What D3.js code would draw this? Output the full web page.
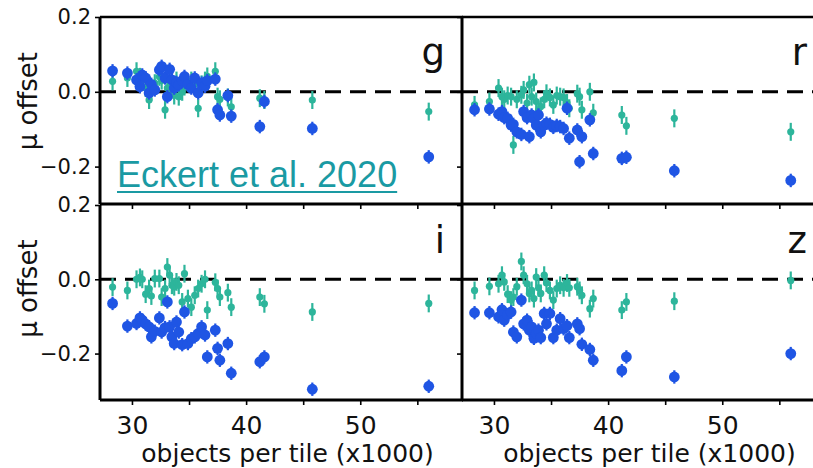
<!DOCTYPE html>
<html>
<head>
<meta charset="utf-8">
<script src="https://cdnjs.cloudflare.com/ajax/libs/d3/7.8.5/d3.min.js"></script>
<style>
  body { margin: 0; background: #fff; }
  svg { display: block; font-family: 'DejaVu Sans', sans-serif; }
</style>
</head>
<body>
<svg id="chart" width="813" height="468"></svg>
<script>
// objects per tile (x1000), one entry per tile, shared by every band
const tiles = [28.3, 29.6, 30.4, 30.7, 30.9, 31.2, 31.5, 31.7, 32.0, 32.4,
               32.6, 32.9, 33.1, 33.3, 33.5, 33.7, 33.9, 34.1, 34.4, 34.6,
               34.9, 35.2, 35.5, 35.8, 36.1, 36.4, 36.6, 37.3, 37.5, 37.7,
               38.4, 38.7, 41.2, 41.6, 45.8, 56.0];

// mu offset per tile, blue and teal samples for each band
const gBlue = [0.056, 0.050, 0.032, 0.014, 0.045, 0.037, -0.003, 0.020, 0.005, 0.059,
               0.068, 0.037, -0.013, 0.060, 0.032, 0.010, 0.025, 0.019, 0.030, 0.041,
               0.020, 0.010, 0.037, -0.003, 0.023, 0.015, 0.030, 0.034, -0.048, -0.062,
               -0.010, -0.065, -0.093, -0.026, -0.098, -0.174];
const gTeal = [0.028, 0.037, 0.055, 0.040, 0.030, 0.010, -0.022, 0.000, 0.023, 0.040,
               0.030, -0.048, 0.010, 0.005, 0.020, -0.010, 0.030, -0.013, 0.000, 0.014,
               0.025, 0.030, 0.020, -0.044, 0.020, 0.030, 0.041, 0.055, -0.013, -0.020,
               -0.015, -0.040, -0.017, -0.022, -0.022, -0.053];

const rBlue = [-0.048, -0.046, -0.060, -0.053, -0.069, -0.071, -0.089, -0.087, -0.107, -0.114,
               -0.053, -0.069, -0.120, -0.062, -0.071, -0.089, -0.062, -0.107, -0.089, -0.084,
               -0.087, -0.095, -0.090, -0.093, -0.098, -0.044, -0.124, -0.102, -0.187, -0.120,
               -0.075, -0.165, -0.178, -0.175, -0.211, -0.237];
const rTeal = [-0.035, -0.026, 0.010, -0.013, -0.020, -0.010, -0.013, -0.142, -0.020, -0.008,
               0.005, -0.030, 0.019, -0.013, 0.025, -0.026, -0.050, -0.039, -0.020, -0.004,
               -0.015, -0.035, -0.010, -0.013, -0.015, -0.030, -0.044, -0.005, -0.013, -0.048,
               0.000, -0.056, -0.062, -0.091, -0.071, -0.107];

const iBlue = [-0.065, -0.126, -0.119, -0.104, -0.110, -0.120, -0.128, -0.155, -0.140, -0.104,
               -0.142, -0.130, -0.061, -0.128, -0.155, -0.173, -0.115, -0.142, -0.176, -0.088,
               -0.173, -0.160, -0.155, -0.146, -0.128, -0.150, -0.209, -0.137, -0.186, -0.218,
               -0.173, -0.253, -0.222, -0.209, -0.296, -0.288];
const iTeal = [-0.021, -0.030, 0.000, 0.005, 0.000, -0.040, -0.025, -0.045, 0.002, 0.002,
               -0.048, -0.025, 0.033, 0.011, -0.016, -0.020, -0.007, -0.016, -0.061, 0.015,
               -0.052, -0.075, -0.043, -0.025, -0.012, 0.000, -0.083, -0.008, -0.025, -0.048,
               -0.036, -0.075, -0.048, -0.066, -0.088, -0.065];

const zBlue = [-0.090, -0.090, -0.101, -0.082, -0.110, -0.095, -0.088, -0.142, -0.155, -0.056,
               -0.120, -0.110, -0.137, -0.128, -0.159, -0.146, -0.137, -0.157, -0.092, -0.120,
               -0.092, -0.157, -0.137, -0.106, -0.133, -0.125, -0.157, -0.120, -0.133, -0.175,
               -0.189, -0.218, -0.246, -0.209, -0.263, -0.200];
const zTeal = [-0.030, -0.019, -0.012, 0.011, -0.007, -0.040, -0.056, -0.048, -0.020, 0.048,
               0.011, -0.012, -0.038, -0.030, -0.052, 0.006, -0.023, -0.038, 0.011, -0.010,
               -0.030, -0.056, -0.025, -0.016, -0.023, -0.010, -0.023, -0.020, -0.030, -0.043,
               -0.079, -0.052, -0.083, -0.061, -0.059, -0.003];

const bands = ['g', 'r', 'i', 'z'];
const xTicks = [30, 35, 40, 45, 50, 55];
const xTickLabels = [30, 40, 50];
const yTicks = [-0.2, 0.0, 0.2];

const blueColor = '#1f55e4';
const tealColor = '#2db59b';

const panels = [
  {band: bands[0], blue: gBlue, teal: gTeal, col: 0, row: 0},
  {band: bands[1], blue: rBlue, teal: rTeal, col: 1, row: 0},
  {band: bands[2], blue: iBlue, teal: iTeal, col: 0, row: 1},
  {band: bands[3], blue: zBlue, teal: zTeal, col: 1, row: 1}
];

const colRange = [[100, 463], [462, 825]];
const rows = [
  {domain: [-0.3, 0.2], range: [204, 17]},
  {domain: [-0.325, 0.2], range: [400, 205]}
];

const svg = d3.select('#chart');

panels.forEach(p => {
  let row = rows[p.row];
  let x = d3.scaleLinear().domain([27.2, 59.0]).range(colRange[p.col]);
  let y = d3.scaleLinear().domain(row.domain).range(row.range);
  let [x0, x1] = x.range();
  let [yb, yt] = y.range();

  let g = svg.append('g').attr('class', 'panel panel-' + p.band);

  // zero line
  g.append('line')
   .attr('x1', x0).attr('x2', x1)
   .attr('y1', y(0)).attr('y2', y(0))
   .attr('stroke', '#000')
   .attr('stroke-width', 3)
   .attr('stroke-dasharray', '16 9');

  let teal = tiles.map((t, k) => ({x: t, y: p.teal[k]}));
  let blue = tiles.map((t, k) => ({x: t, y: p.blue[k]}));

  // teal points
  g.append('g').selectAll('line')
   .data(teal).join('line')
   .attr('x1', d => x(d.x)).attr('x2', d => x(d.x))
   .attr('y1', d => y(d.y - 0.024)).attr('y2', d => y(d.y + 0.024))
   .attr('stroke', tealColor).attr('stroke-width', 2.2);
  g.append('g').selectAll('circle')
   .data(teal).join('circle')
   .attr('cx', d => x(d.x)).attr('cy', d => y(d.y))
   .attr('r', 3.6).attr('fill', tealColor);

  // blue points
  g.append('g').selectAll('line')
   .data(blue).join('line')
   .attr('x1', d => x(d.x)).attr('x2', d => x(d.x))
   .attr('y1', d => y(d.y - 0.018)).attr('y2', d => y(d.y + 0.018))
   .attr('stroke', blueColor).attr('stroke-width', 2.2);
  g.append('g').selectAll('circle')
   .data(blue).join('circle')
   .attr('cx', d => x(d.x)).attr('cy', d => y(d.y))
   .attr('r', 5.4).attr('fill', blueColor);

  // axes
  let xAxis = d3.axisBottom(x)
                .tickValues(xTicks)
                .tickSize(5)
                .tickPadding(11)
                .tickFormat(d => (p.row === 1 && xTickLabels.includes(d)) ? d : '');
  let yAxis = d3.axisLeft(y)
                .tickValues(yTicks)
                .tickSize(5)
                .tickPadding(4)
                .tickFormat(p.col === 0 ? d3.format('.1f') : () => '');

  let xg = g.append('g')
            .attr('transform', `translate(0,${yb})`)
            .call(xAxis);
  xg.select('.domain').remove();
  xg.selectAll('line').attr('stroke-width', 1.6);
  xg.selectAll('text').attr('font-size', 25).attr('font-family', 'DejaVu Sans').attr('fill', '#111');

  let yg = g.append('g')
            .attr('transform', `translate(${x0},0)`)
            .call(yAxis);
  yg.select('.domain').remove();
  yg.selectAll('line').attr('stroke-width', 1.6);
  yg.selectAll('text').attr('font-size', 21).attr('font-family', 'DejaVu Sans').attr('fill', '#111');

  // frame
  g.append('line').attr('x1', x0).attr('x2', x0).attr('y1', yt).attr('y2', yb)
   .attr('stroke', '#000').attr('stroke-width', 3);
  g.append('line').attr('x1', x0).attr('x2', x1).attr('y1', yb).attr('y2', yb)
   .attr('stroke', '#000').attr('stroke-width', 3);
  if (p.row === 0) {
    g.append('line').attr('x1', x0).attr('x2', x1).attr('y1', yt).attr('y2', yt)
     .attr('stroke', '#000').attr('stroke-width', 2.5);
  }

  // band letter
  g.append('text')
   .attr('x', x1 - 18)
   .attr('y', yt + 48)
   .attr('text-anchor', 'end')
   .attr('font-size', 37)
   .attr('fill', '#111')
   .text(p.band);

  if (p.col === 0) {
    g.append('text')
     .attr('transform', `translate(37,${y(-0.025)}) rotate(-90)`)
     .attr('text-anchor', 'middle')
     .attr('font-size', 26)
     .attr('fill', '#111')
     .text('μ offset');
  }
  if (p.row === 1) {
    g.append('text')
     .attr('x', (x0 + x1) / 2 + 6)
     .attr('y', 462)
     .attr('text-anchor', 'middle')
     .attr('font-size', 25)
     .attr('fill', '#111')
     .text('objects per tile (x1000)');
  }
});

// citation link
let cite = svg.append('text')
              .attr('x', 117)
              .attr('y', 187)
              .attr('font-family', "'Liberation Sans', Arial, sans-serif")
              .attr('font-size', 36)
              .attr('fill', '#1a9aa3')
              .text('Eckert et al. 2020');
let cw = cite.node().getComputedTextLength();
svg.append('line')
   .attr('x1', 117).attr('x2', 117 + cw)
   .attr('y1', 192).attr('y2', 192)
   .attr('stroke', '#1a9aa3')
   .attr('stroke-width', 2.2);
</script>
</body>
</html>
